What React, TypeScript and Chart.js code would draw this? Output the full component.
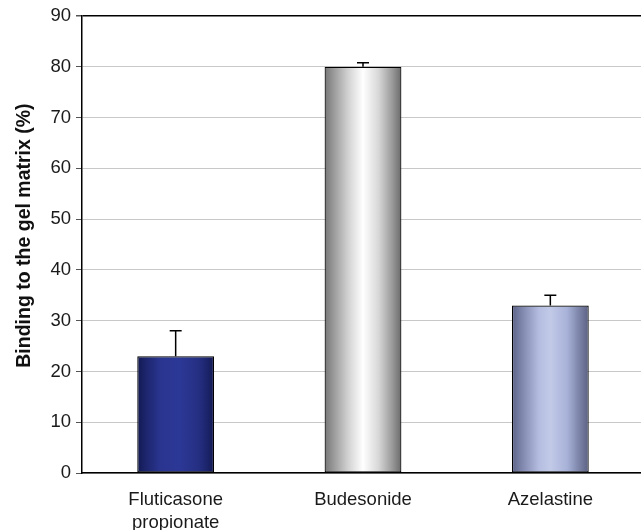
import React, { useEffect, useRef } from "react";
import { Chart, registerables } from "chart.js";

Chart.register(...registerables);

const categories: (string | string[])[] = [["Fluticasone", "propionate"], "Budesonide", "Azelastine"];
const values = [23, 80, 33];
const errorTops = [28, 80.8, 35];
const yTicks = [0, 10, 20, 30, 40, 50, 60, 70, 80, 90];
const yTitle = "Binding to the gel matrix (%)";

const gradientStops: [number, string][][] = [
  [[0, "#111850"], [0.08, "#1a2266"], [0.3, "#2a3590"], [0.55, "#2c3896"], [0.8, "#252f82"], [0.93, "#1a2266"], [1, "#111850"]],
  [[0, "#767676"], [0.12, "#9a9a9a"], [0.3, "#d0d0d0"], [0.5, "#ffffff"], [0.7, "#d8d8d8"], [0.88, "#9a9a9a"], [1, "#6a6a6a"]],
  [[0, "#5c6286"], [0.12, "#7c84aa"], [0.35, "#b4bde0"], [0.5, "#c2cae8"], [0.72, "#a8b2d8"], [0.88, "#7a82a6"], [1, "#5a6084"]],
];

const errorBarPlugin = {
  id: "errorBars",
  afterDatasetsDraw(chart: any) {
    const ctx = chart.ctx;
    const meta = chart.getDatasetMeta(0);
    const y = chart.scales.y;
    ctx.save();
    ctx.strokeStyle = "#000";
    ctx.lineWidth = 1.5;
    meta.data.forEach((bar: any, i: number) => {
      const top = y.getPixelForValue(errorTops[i]);
      ctx.beginPath();
      ctx.moveTo(bar.x, bar.y);
      ctx.lineTo(bar.x, top);
      ctx.moveTo(bar.x - 6, top);
      ctx.lineTo(bar.x + 6, top);
      ctx.stroke();
    });
    ctx.restore();
  },
};

const yTitlePlugin = {
  id: "yTitle",
  afterDraw(chart: any) {
    const ctx = chart.ctx;
    const a = chart.chartArea;
    ctx.save();
    ctx.translate(25, (a.top + a.bottom) / 2 - 9);
    ctx.rotate(-Math.PI / 2);
    ctx.font = "bold 19.5px 'Liberation Sans', Arial";
    ctx.fillStyle = "#111";
    ctx.textAlign = "center";
    ctx.textBaseline = "middle";
    ctx.fillText(yTitle, 0, 0);
    ctx.restore();
  },
};

export default function App() {
  const ref = useRef<HTMLCanvasElement>(null);
  useEffect(() => {
    if (!ref.current) return;
    const chart = new Chart(ref.current, {
      type: "bar",
      data: {
        labels: categories as any,
        datasets: [
          {
            data: values,
            backgroundColor: (c: any) => {
              const ch = c.chart;
              const xs = ch.scales?.x;
              if (!ch.chartArea || !xs || c.dataIndex === undefined) return "#888";
              const cx = xs.getPixelForValue(c.dataIndex);
              const half = (ch.chartArea.width / categories.length) * 0.41 / 2;
              const g = ch.ctx.createLinearGradient(cx - half, 0, cx + half, 0);
              gradientStops[c.dataIndex].forEach(([o, col]) => g.addColorStop(o, col));
              return g;
            },
            borderColor: "#000",
            borderWidth: 1.2,
            borderSkipped: false,
            barPercentage: 0.41,
            categoryPercentage: 1,
          },
        ],
      },
      options: {
        animation: false,
        responsive: false,
        events: [],
        layout: { padding: { top: 16, left: 0, right: 0, bottom: 0 } },
        plugins: { legend: { display: false }, tooltip: { enabled: false } },
        scales: {
          x: {
            grid: { display: false },
            border: { color: "#000", width: 1.5 },
            ticks: { color: "#1a1a1a", font: { family: "Liberation Sans, Arial", size: 18.5, lineHeight: 1.24 }, padding: 7, maxRotation: 0 },
            afterFit: (s: any) => { s.height = 57; },
          },
          y: {
            min: 0,
            max: 90,
            afterBuildTicks: (s: any) => { s.ticks = yTicks.map((v) => ({ value: v })); },
            grid: {
              color: (c: any) => (c.tick && c.tick.value === 90 ? "#000" : "#c8c8c8"),
              lineWidth: (c: any) => (c.tick && c.tick.value === 90 ? 1.5 : 1),
              tickColor: "#555",
              tickLength: 6,
            },
            border: { color: "#000", width: 1.5 },
            ticks: { color: "#1a1a1a", font: { family: "Liberation Sans, Arial", size: 18.5 }, padding: 5 },
            title: { display: false },
            afterFit: (s: any) => { s.width = 82; },
          },
        },
      },
      plugins: [errorBarPlugin, yTitlePlugin],
    });
    return () => chart.destroy();
  }, []);
  return (
    <div style={{ position: "fixed", left: 0, top: 0, width: 641, height: 530, overflow: "hidden", background: "#fff" }}>
      <canvas ref={ref} width={644} height={530} style={{ display: "block" }} />
    </div>
  );
}
